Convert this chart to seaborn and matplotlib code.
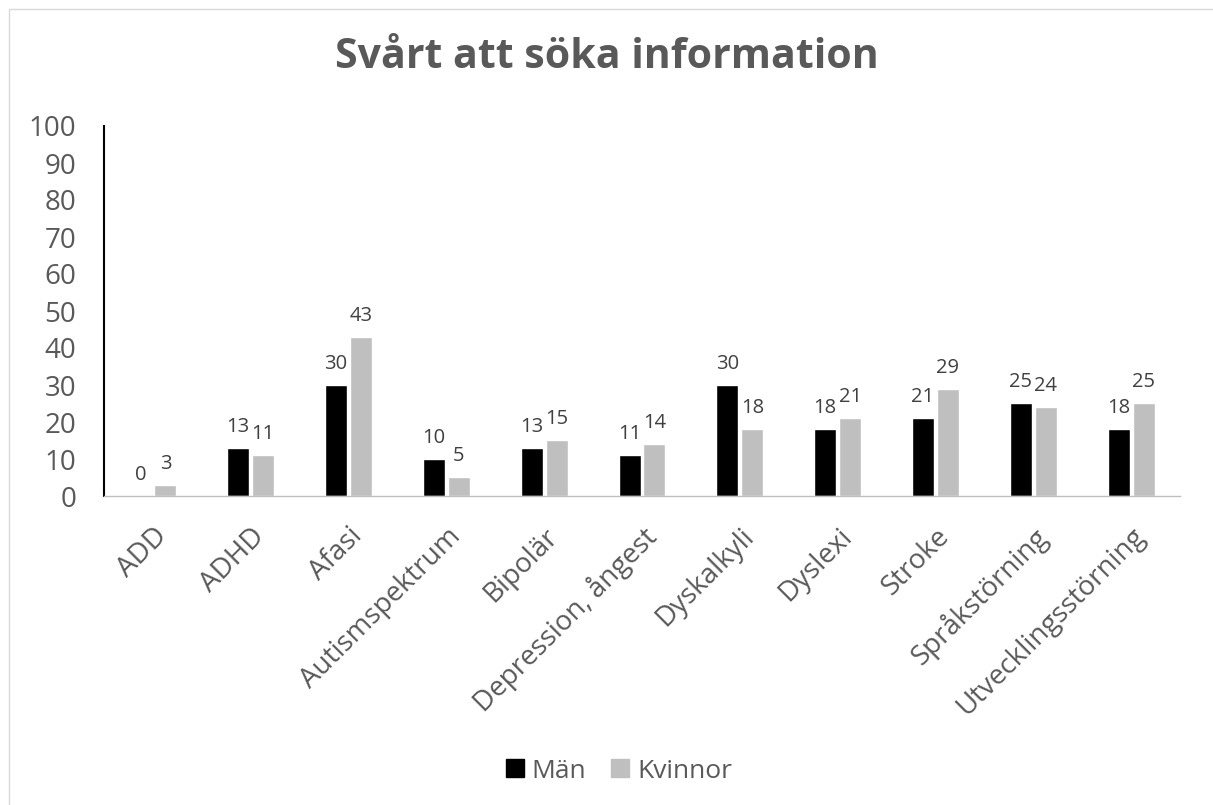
import pandas as pd
import matplotlib.pyplot as plt
import seaborn as sns
from matplotlib.patches import Rectangle

categories = ["ADD", "ADHD", "Afasi", "Autismspektrum", "Bipolär",
              "Depression, ångest", "Dyskalkyli", "Dyslexi", "Stroke",
              "Språkstörning", "Utvecklingsstörning"]
man = [0, 13, 30, 10, 13, 11, 30, 18, 21, 25, 18]
kvinnor = [3, 11, 43, 5, 15, 14, 18, 21, 29, 24, 25]
series = ["Män", "Kvinnor"]
yticks = list(range(0, 101, 10))

df = pd.DataFrame({
    "kategori": categories * 2,
    "grupp": ["Män"] * len(categories) + ["Kvinnor"] * len(categories),
    "varde": man + kvinnor,
})

sns.set_style("white")
plt.rcParams["font.family"] = ["Open Sans", "DejaVu Sans"]
text_color = "#595959"

fig = plt.figure(figsize=(12.13, 8.05), dpi=100)
ax = fig.add_axes([104 / 1213, 1 - 496 / 805, (1180 - 104) / 1213, (496 - 126) / 805])

sns.barplot(data=df, x="kategori", y="varde", hue="grupp", hue_order=series,
            palette=["#000000", "#BFBFBF"], width=0.51, gap=0.12, ax=ax, legend=False)

for cont in ax.containers:
    ax.bar_label(cont, labels=[f"{v:.0f}" for v in cont.datavalues],
                 padding=8, fontsize=14.5, color="#404040")

ax.set_ylim(0, 100)
ax.set_yticks(yticks)
ax.set_xlim(-0.5, len(categories) - 0.5)
ax.tick_params(axis="y", labelsize=20, colors=text_color, length=0, pad=20)
ax.tick_params(axis="x", labelsize=20, colors=text_color, length=0, pad=19)
plt.setp(ax.get_xticklabels(), rotation=45, ha="right", rotation_mode="anchor")
ax.set_xlabel("")
ax.set_ylabel("")

for s in ["top", "right"]:
    ax.spines[s].set_visible(False)
ax.spines["left"].set_color("black")
ax.spines["left"].set_linewidth(1.5)
ax.spines["bottom"].set_color("#BFBFBF")
ax.spines["bottom"].set_linewidth(1)

fig.text(0.5, 1 - 58 / 805, "Svårt att söka information", ha="center", va="center",
         fontsize=29.5, fontweight="bold", color=text_color)

handles = [Rectangle((0, 0), 1, 1, color=c) for c in ["#000000", "#BFBFBF"]]
fig.legend(handles, series, loc="center", bbox_to_anchor=(619 / 1213, 1 - 771 / 805),
           ncol=2, frameon=False, fontsize=19, labelcolor=text_color,
           handlelength=0.68, handleheight=0.68, handletextpad=0.3, columnspacing=0.95)

fig.patches.append(Rectangle((9 / 1213, -0.01), 1.02, 1 - 9 / 805 + 0.01,
                             transform=fig.transFigure, fill=False,
                             edgecolor="#D9D9D9", linewidth=1))

fig.savefig("out.png", dpi=100)
